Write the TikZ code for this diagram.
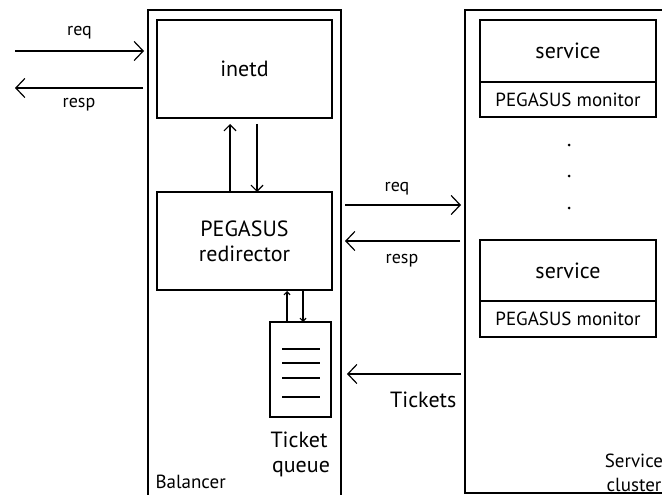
\documentclass[tikz,border=0pt]{standalone}
\usepackage{fontspec}
\setmainfont{PT Sans}
\usetikzlibrary{arrows.meta}
\begin{document}
\begin{tikzpicture}[x=1pt,y=-1pt,line width=1.2pt,
  box/.style={draw,line width=1.3pt,anchor=north west,inner sep=0pt,outer sep=0pt},
  arr/.style={-{Straight Barb[length=9pt,width=19pt]}},
  sarr/.style={-{Straight Barb[length=6pt,width=12pt]}},
  tarr/.style={-{Straight Barb[length=3pt,width=6pt]}},
  big/.style={font=\fontsize{22}{25}\selectfont,align=center},
  mid/.style={font=\fontsize{19}{22}\selectfont,align=center},
  small/.style={font=\fontsize{18}{20}\selectfont,anchor=base,inner sep=0pt}]
\useasboundingbox (0,0) rectangle (662,495);
\begin{scope}
\clip (0,0) rectangle (662,495);
\node[box,minimum width=193pt,minimum height=495pt] (bal) at (148,10) {};
\node[box,minimum width=220pt,minimum height=483pt] (clu) at (465,10) {};
\end{scope}
% balancer content
\node[box,minimum width=175pt,minimum height=98pt,big] (inetd) at (157,20) {inetd};
\node[box,minimum width=175pt,minimum height=98pt,big] (redir) at (157,192) {PEGASUS\\redirector};
\node[box,minimum width=61pt,minimum height=95pt] (queue) at (270,322) {};
\foreach \yy in {349,363,378,397} \draw (282,\yy) -- (320,\yy);
\node[big,anchor=base,inner sep=0pt] (qlab1) at (299,447) {Ticket};
\node[big,anchor=base,inner sep=0pt] (qlab2) at (301,472) {queue};
\node[mid,anchor=base west,inner sep=0pt] (ballab) at (155,488) {Balancer};
% cluster content
\node[box,minimum width=176pt,minimum height=62pt,big] (s1) at (480,20) {service};
\node[box,minimum width=176pt,minimum height=35pt,mid] (m1) at (480,82) {PEGASUS monitor};
\node[box,minimum width=176pt,minimum height=61pt,big] (s2) at (480,240) {service};
\node[box,minimum width=176pt,minimum height=36pt,mid] (m2) at (480,301) {PEGASUS monitor};
\foreach \yy [count=\i] in {145,176,208} \fill (569,\yy) circle (1.5pt) coordinate (dot\i);
\node[mid,anchor=base,inner sep=0pt] (clulab1) at (634,467) {Service};
\node[mid,anchor=base,inner sep=0pt] (clulab2) at (634,491) {cluster};
% external arrows
\coordinate (reqin) at (15,51);
\coordinate (respout) at (15,88);
\draw[arr] (reqin) -- ([xshift=-4pt]reqin -| bal.west);
\draw[arr] ([xshift=-5pt]respout -| bal.west) -- (respout);
\node[small] (reqlab) at (79.5,36) {req};
\node[small] (resplab) at (79,107) {resp};
% inetd <-> redirector
\draw[sarr] ([xshift=-14.5pt]redir.north) -- ([xshift=-14.5pt,yshift=-6pt]inetd.south);
\draw[sarr] ([xshift=12.5pt,yshift=-6pt]inetd.south) -- ([xshift=12.5pt]redir.north);
% redirector <-> queue
\draw[tarr] ([xshift=-13.5pt]queue.north) -- ([xshift=-13.5pt,yshift=-1pt]queue.north |- redir.south);
\draw[tarr] ([xshift=2.5pt,yshift=-1pt]queue.north |- redir.south) -- ([xshift=2.5pt]queue.north);
% middle arrows
\coordinate (mreq) at (0,205);
\coordinate (mresp) at (0,241);
\coordinate (mtick) at (0,374);
\draw[arr] ([xshift=4pt]mreq -| bal.east) -- ([xshift=-4pt]mreq -| clu.west);
\draw[arr] ([xshift=-5pt]mresp -| clu.west) -- ([xshift=4pt]mresp -| bal.east);
\draw[arr] ([xshift=-4pt]mtick -| clu.west) -- ([xshift=6pt]mtick -| bal.east);
\node[small] (mreqlab) at (397,191) {req};
\node[small] (mresplab) at (402,263) {resp};
\node[big,anchor=base east,inner sep=0pt] (ticklab) at (457,407) {Tickets};
\end{tikzpicture}
\end{document}
